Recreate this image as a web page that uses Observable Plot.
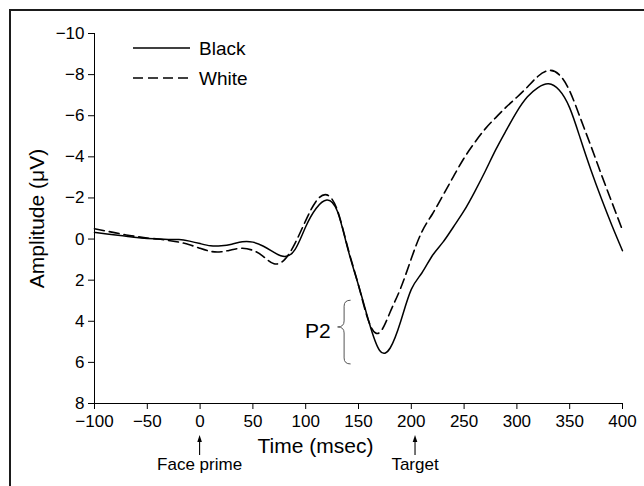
<!DOCTYPE html>
<html><head><meta charset="utf-8">
<script src="https://cdn.jsdelivr.net/npm/d3@7"></script>
<script src="https://cdn.jsdelivr.net/npm/@observablehq/plot@0.6"></script>
<style>
html,body{margin:0;padding:0;background:#fff;}
#wrap{position:relative;width:644px;height:486px;overflow:hidden;}
#frame{position:absolute;left:9px;top:9px;width:700px;height:600px;border-top:2px solid #1b1b1b;border-left:2px solid #1b1b1b;pointer-events:none;}
</style></head><body>
<div id="wrap"><div id="chart"></div><div id="frame"></div></div>
<script>
// ---- data ----
const times = [-100,-90,-80,-70,-60,-50,-40,-30,-20,-10,0,10,20,30,40,50,60,70,80,90,100,110,120,130,140,150,160,170,180,190,200,210,220,230,240,250,260,270,280,290,300,310,320,330,340,350,360,370,380,390,400];
const blackValues = [-0.32,-0.26,-0.2,-0.14,-0.07,-0.03,0,0.02,0.02,0.1,0.22,0.33,0.33,0.25,0.13,0.15,0.35,0.65,0.85,0.5,-0.6,-1.5,-1.9,-1.35,0.5,2.25,4.05,5.42,5.3,4.0,2.45,1.65,0.8,0.15,-0.6,-1.38,-2.3,-3.3,-4.35,-5.3,-6.2,-6.92,-7.37,-7.55,-7.25,-6.38,-4.9,-3.37,-1.97,-0.66,0.57];
const whiteValues = [-0.5,-0.4,-0.3,-0.2,-0.12,-0.05,0,0.07,0.15,0.28,0.45,0.6,0.62,0.52,0.45,0.55,0.85,1.2,1.0,0.2,-0.9,-1.85,-2.15,-1.4,0.45,2.25,4.05,4.55,3.55,2.38,0.95,-0.35,-1.22,-2.13,-3.05,-3.94,-4.69,-5.36,-5.91,-6.43,-6.9,-7.4,-7.92,-8.2,-8.0,-7.2,-5.9,-4.54,-3.14,-1.78,-0.43];
const seriesNames = ["Black", "White"];
const xTicks = [-100,-50,0,50,100,150,200,250,300,350,400];
const yTicks = [-10,-8,-6,-4,-2,0,2,4,6,8];
const eventTimes = [0, 204];
const eventLabels = ["Face prime", "Target"];
const p2Label = "P2";
const p2Span = [3.0, 6.1];
const p2Tip = 4.3;
const p2Time = 143;
const xLabel = "Time (msec)";
const yLabel = "Amplitude (\u03bcV)";

// ---- build ----
const rows = [];
times.forEach((t, i) => {
  rows.push({t, v: blackValues[i], s: seriesNames[0]});
  rows.push({t, v: whiteValues[i], s: seriesNames[1]});
});
const dashes = {Black: null, White: "10,5"};
const FONT = "'Liberation Sans', Arial, Helvetica, sans-serif";
const fmt = d3.format("");
const NS = "http://www.w3.org/2000/svg";
function el(tag, attrs) {
  const e = document.createElementNS(NS, tag);
  for (const k in attrs) e.setAttribute(k, attrs[k]);
  return e;
}

// legend drawn inside the frame (top-left)
function legendMark(index, scales, values, dim) {
  const g = el("g", {});
  const x0 = dim.marginLeft + 39, x1 = dim.marginLeft + 96;
  seriesNames.forEach((name, i) => {
    const y = dim.marginTop + 15 + i * 30;
    const line = el("line", {x1: x0, x2: x1, y1: y, y2: y, stroke: "#000", "stroke-width": 1.5});
    if (dashes[name]) line.setAttribute("stroke-dasharray", dashes[name]);
    g.appendChild(line);
    const tx = el("text", {x: x1 + 9, y: y, dy: "0.35em", "text-anchor": "start", "font-size": 19, fill: "#000"});
    tx.textContent = name;
    g.appendChild(tx);
  });
  return g;
}

// event arrows + labels under the x axis
function eventMark(index, scales, values, dim) {
  const g = el("g", {});
  const bottom = dim.height - dim.marginBottom;
  eventTimes.forEach((t, i) => {
    const x = scales.x(t);
    g.appendChild(el("line", {x1: x, x2: x, y1: bottom + 52, y2: bottom + 37, stroke: "#000", "stroke-width": 1.1}));
    g.appendChild(el("path", {d: `M${x},${bottom + 32}L${x - 2.3},${bottom + 39}L${x + 2.3},${bottom + 39}Z`, fill: "#000"}));
    const tx = el("text", {x: x, y: bottom + 67, "text-anchor": "middle", "font-size": 17, fill: "#000"});
    tx.textContent = eventLabels[i];
    g.appendChild(tx);
  });
  return g;
}

// P2 curly brace
function braceMark(index, scales) {
  const g = el("g", {});
  const xe = scales.x(p2Time), xt = xe - 13, xm = xe - 6.5;
  const y0 = scales.y(p2Span[0]), y1 = scales.y(p2Span[1]), ym = scales.y(p2Tip);
  const d = `M${xe},${y0}Q${xm},${y0} ${xm},${y0 + 6}L${xm},${ym - 6}Q${xm},${ym} ${xt},${ym}Q${xm},${ym} ${xm},${ym + 6}L${xm},${y1 - 6}Q${xm},${y1} ${xe},${y1}`;
  g.appendChild(el("path", {d, fill: "none", stroke: "#555", "stroke-width": 1}));
  const tx = el("text", {x: xt - 7, y: ym + 4, dy: "0.35em", "text-anchor": "end", "font-size": 21, fill: "#000"});
  tx.textContent = p2Label;
  g.appendChild(tx);
  return g;
}

const chart = Plot.plot({
  width: 644,
  height: 486,
  marginLeft: 94,
  marginRight: 22,
  marginTop: 33,
  marginBottom: 83,
  style: {fontFamily: FONT, fontSize: "17px", color: "#000", background: "transparent", overflow: "visible"},
  x: {domain: [-100, 400], ticks: xTicks, tickFormat: fmt, tickSize: 6, tickPadding: 5, line: true, label: null},
  y: {domain: [-10, 8], reverse: true, ticks: yTicks, tickFormat: fmt, tickSize: 6, tickPadding: 4, line: true, label: null},
  marks: [
    Plot.line(rows.filter(d => d.s === "Black"), {x: "t", y: "v", stroke: "#000", strokeWidth: 1.5, curve: "natural"}),
    Plot.line(rows.filter(d => d.s === "White"), {x: "t", y: "v", stroke: "#000", strokeWidth: 1.6, strokeDasharray: "10,5", curve: "natural"}),
    Plot.text([xLabel], {text: d => d, frameAnchor: "bottom", textAnchor: "middle", lineAnchor: "bottom", dx: -43, dy: 49, fontSize: 21}),
    Plot.text([yLabel], {text: d => d, frameAnchor: "left", textAnchor: "middle", lineAnchor: "bottom", rotate: -90, dx: -51, fontSize: 21}),
    legendMark,
    eventMark,
    braceMark
  ]
});
document.getElementById("chart").appendChild(chart);
</script>
</body></html>
